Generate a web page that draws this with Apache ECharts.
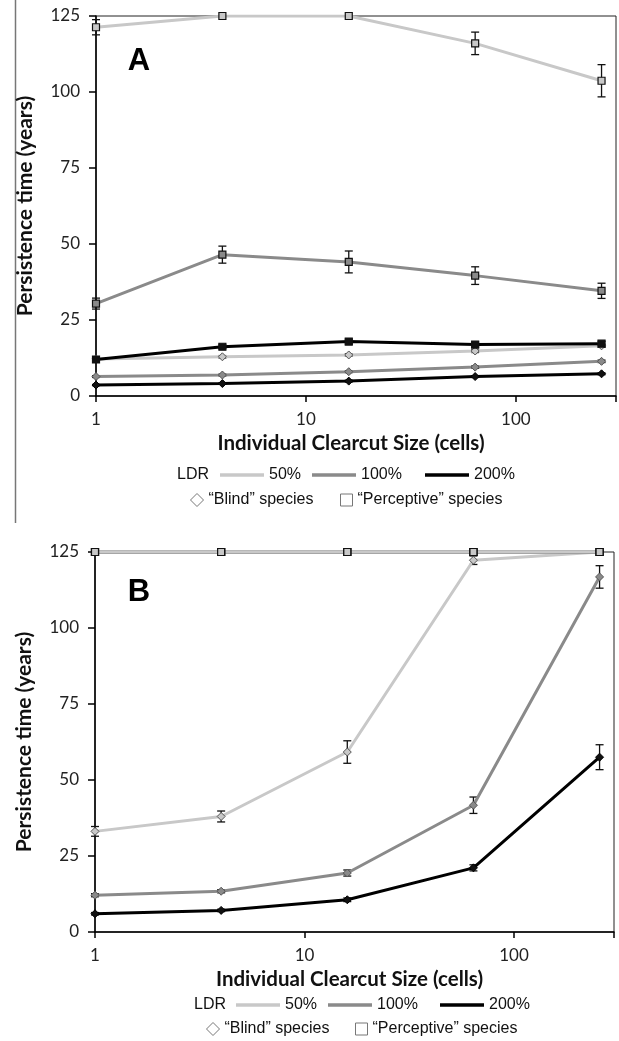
<!DOCTYPE html>
<html><head><meta charset="utf-8">
<script src="https://cdn.jsdelivr.net/npm/echarts@6/dist/echarts.min.js"></script>
<style>html,body{margin:0;padding:0;background:#fff}#c{width:619px;height:1041px}</style>
</head><body><div id="c"></div>
<script>
// ---------- data ----------
const clearcutSizes = [1, 4, 16, 64, 256];
const xTickLabels = [1, 10, 100];
const yTickLabels = [0, 25, 50, 75, 100, 125];
const ldrLevels = ['50%', '100%', '200%'];
const speciesTypes = ['“Blind” species', '“Perceptive” species'];
const panelLabels = ['A', 'B'];

// Panel A
const aBlind50 = [12.2, 12.9, 13.5, 14.8, 16.5];
const aBlind50Err = [0.4, 0.4, 0.4, 0.5, 0.5];
const aBlind100 = [6.4, 6.9, 8.0, 9.5, 11.4];
const aBlind100Err = [0.3, 0.3, 0.3, 0.4, 0.4];
const aBlind200 = [3.6, 4.1, 4.9, 6.4, 7.3];
const aBlind200Err = [0.2, 0.2, 0.3, 0.3, 0.3];
const aPerc50 = [121.3, 125, 125, 116.0, 103.7];
const aPerc50Err = [2.5, 0, 0, 3.7, 5.3];
const aPerc100 = [30.4, 46.5, 44.1, 39.6, 34.6];
const aPerc100Err = [1.8, 2.8, 3.6, 2.9, 2.5];
const aPerc200 = [12.0, 16.2, 17.9, 16.9, 17.2];
const aPerc200Err = [0.6, 0.6, 0.8, 0.8, 0.8];

// Panel B
const bBlind50 = [33.1, 38.0, 59.2, 122.3, 125];
const bBlind50Err = [1.6, 1.8, 3.7, 1.4, 0];
const bBlind100 = [12.1, 13.4, 19.4, 41.7, 116.8];
const bBlind100Err = [0.5, 0.5, 1.0, 2.7, 3.7];
const bBlind200 = [6.0, 7.1, 10.6, 21.1, 57.5];
const bBlind200Err = [0.4, 0.4, 0.6, 1.0, 4.1];
const bPerc50 = [125, 125, 125, 125, 125];
const bPerc50Err = [0, 0, 0, 0, 0];
const bPerc100 = [125, 125, 125, 125, 125];
const bPerc100Err = [0, 0, 0, 0, 0];
const bPerc200 = [125, 125, 125, 125, 125];
const bPerc200Err = [0, 0, 0, 0, 0];

// ---------- styles / layout ----------
const ldrColor = { '50%': '#c8c8c8', '100%': '#8a8a8a', '200%': '#000000' };
const markerFill = { '50%': '#c8c8c8', '100%': '#8a8a8a', '200%': '#111111' };
const tickFont = 'Lato';
const legendFont = '"Liberation Sans", Arial, sans-serif';

const panels = [
  { blind: [aBlind50, aBlind100, aBlind200], blindErr: [aBlind50Err, aBlind100Err, aBlind200Err],
    perc: [aPerc50, aPerc100, aPerc200], percErr: [aPerc50Err, aPerc100Err, aPerc200Err],
    grid: { left: 96, top: 16, width: 520, height: 380 },
    labelPos: [139, 61],
    ldrX: 177, row1Y: 476, row2Y: 501,
    lineLefts: [220, 312, 425], diamondLeft: 190, squareLeft: 340 },
  { blind: [bBlind50, bBlind100, bBlind200], blindErr: [bBlind50Err, bBlind100Err, bBlind200Err],
    perc: [bPerc50, bPerc100, bPerc200], percErr: [bPerc50Err, bPerc100Err, bPerc200Err],
    grid: { left: 95, top: 552, width: 519, height: 380 },
    labelPos: [139, 592],
    ldrX: 194, row1Y: 1006, row2Y: 1030,
    lineLefts: [236, 328, 440], diamondLeft: 206, squareLeft: 355 }
];

const grids = [], xAxes = [], yAxes = [], series = [], legends = [], graphics = [];

function errRender(params, api) {
  const x = api.value(0), y = api.value(1), e = api.value(2);
  if (!(e > 0)) return null;
  const t = api.coord([x, y + e]), b = api.coord([x, y - e]);
  const w = 4, st = { stroke: '#111', lineWidth: 1.3 };
  return { type: 'group', children: [
    { type: 'line', shape: { x1: t[0], y1: t[1], x2: b[0], y2: b[1] }, style: st },
    { type: 'line', shape: { x1: t[0] - w, y1: t[1], x2: t[0] + w, y2: t[1] }, style: st },
    { type: 'line', shape: { x1: b[0] - w, y1: b[1], x2: b[0] + w, y2: b[1] }, style: st }
  ]};
}

panels.forEach((p, gi) => {
  grids.push(Object.assign({ show: true, borderColor: '#222', borderWidth: 1, backgroundColor: 'transparent' }, p.grid));
  xAxes.push({
    type: 'log', logBase: 10, gridIndex: gi, min: 1, max: 300,
    name: 'Individual Clearcut Size (cells)', nameLocation: 'middle', nameGap: 37,
    nameTextStyle: { fontFamily: tickFont, fontWeight: 'bold', fontSize: 20.5, color: '#111', padding: [0, 10, 0, 0] },
    axisLine: { show: true, lineStyle: { color: '#000', width: 1.5 } },
    axisTick: { show: true, length: 6, lineStyle: { color: '#000', width: 1.5 } },
    minorTick: { show: false },
    splitLine: { show: false },
    axisLabel: { margin: 15, fontFamily: tickFont, fontSize: 17, color: '#222',
      formatter: v => { const r = Math.round(v); return xTickLabels.includes(r) ? String(r) : ''; } }
  });
  yAxes.push({
    type: 'value', gridIndex: gi, min: yTickLabels[0], max: yTickLabels[yTickLabels.length - 1], interval: 25,
    name: 'Persistence time (years)', nameLocation: 'middle', nameGap: 60,
    nameTextStyle: { fontFamily: tickFont, fontWeight: 'bold', fontSize: 21, color: '#111' },
    axisLine: { show: true, lineStyle: { color: '#000', width: 1.5 } },
    axisTick: { show: true, length: 7, lineStyle: { color: '#000', width: 1.5 } },
    splitLine: { show: false },
    axisLabel: { margin: 16, fontFamily: tickFont, fontSize: 17, color: '#222' }
  });

  // error bars
  const errData = [];
  [p.blind, p.perc].forEach((grp, k) => {
    const errs = k === 0 ? p.blindErr : p.percErr;
    grp.forEach((vals, li) => vals.forEach((v, i) => errData.push([clearcutSizes[i], v, errs[li][i]])));
  });
  series.push({ type: 'custom', name: 'err' + gi, xAxisIndex: gi, yAxisIndex: gi, z: 2,
    renderItem: errRender, data: errData, silent: true });

  [2, 1, 0].forEach(li => {
    const ldr = ldrLevels[li];
    series.push({ type: 'line', name: ldr, xAxisIndex: gi, yAxisIndex: gi, z: 3,
      data: clearcutSizes.map((x, i) => [x, p.blind[li][i]]),
      symbol: 'diamond', symbolSize: 8, showSymbol: true,
      lineStyle: { color: ldrColor[ldr], width: 3 },
      itemStyle: { color: markerFill[ldr], borderColor: li === 2 ? '#000' : '#555', borderWidth: 1 } });
  });
  [2, 1, 0].forEach(li => {
    const ldr = ldrLevels[li];
    series.push({ type: 'line', name: ldr, xAxisIndex: gi, yAxisIndex: gi, z: 4,
      data: clearcutSizes.map((x, i) => [x, p.perc[li][i]]),
      symbol: 'rect', symbolSize: 7, showSymbol: true,
      lineStyle: { color: ldrColor[ldr], width: 3 },
      itemStyle: { color: markerFill[ldr], borderColor: '#111', borderWidth: 1.2 } });
  });

  // legends
  const tStyle = { fontFamily: legendFont, fontSize: 16, color: '#111' };
  ldrLevels.forEach((ldr, li) => {
    legends.push({ left: p.lineLefts[li], top: p.row1Y - 9, itemWidth: 44, itemHeight: 3.5,
      selectedMode: false, textStyle: tStyle, padding: 0, itemGap: 0,
      data: [{ name: ldr, icon: 'rect', itemStyle: { color: ldrColor[ldr], borderWidth: 0 } }] });
  });
  legends.push({ left: p.diamondLeft, top: p.row2Y - 9, itemWidth: 13, itemHeight: 13, selectedMode: false,
    textStyle: tStyle, padding: 0,
    data: [{ name: speciesTypes[0], icon: 'diamond', itemStyle: { color: '#fff', borderColor: '#777', borderWidth: 1 } }] });
  legends.push({ left: p.squareLeft, top: p.row2Y - 9, itemWidth: 12, itemHeight: 12, selectedMode: false,
    textStyle: tStyle, padding: 0,
    data: [{ name: speciesTypes[1], icon: 'rect', itemStyle: { color: '#fff', borderColor: '#777', borderWidth: 1 } }] });

  graphics.push({ type: 'text', left: p.ldrX, top: p.row1Y - 9,
    style: { text: 'LDR', font: '16px ' + legendFont, fill: '#111' } });
  graphics.push({ type: 'text', x: p.labelPos[0], y: p.labelPos[1],
    style: { text: panelLabels[gi], font: 'bold 31px "Liberation Sans", Arial, sans-serif', fill: '#000',
      align: 'center', verticalAlign: 'middle' } });
});

// dummy series for the species legend entries
speciesTypes.forEach(n => series.push({ type: 'line', name: n, xAxisIndex: 0, yAxisIndex: 0, data: [] }));

// figure frame line on the left
graphics.push({ type: 'line', shape: { x1: 15.5, y1: 0, x2: 15.5, y2: 523 }, style: { stroke: '#777', lineWidth: 1.5 } });

const chart = echarts.init(document.getElementById('c'), null, { renderer: 'canvas' });
chart.setOption({
  animation: false,
  backgroundColor: '#fff',
  grid: grids, xAxis: xAxes, yAxis: yAxes,
  legend: legends, series: series, graphic: graphics
});
</script></body></html>
